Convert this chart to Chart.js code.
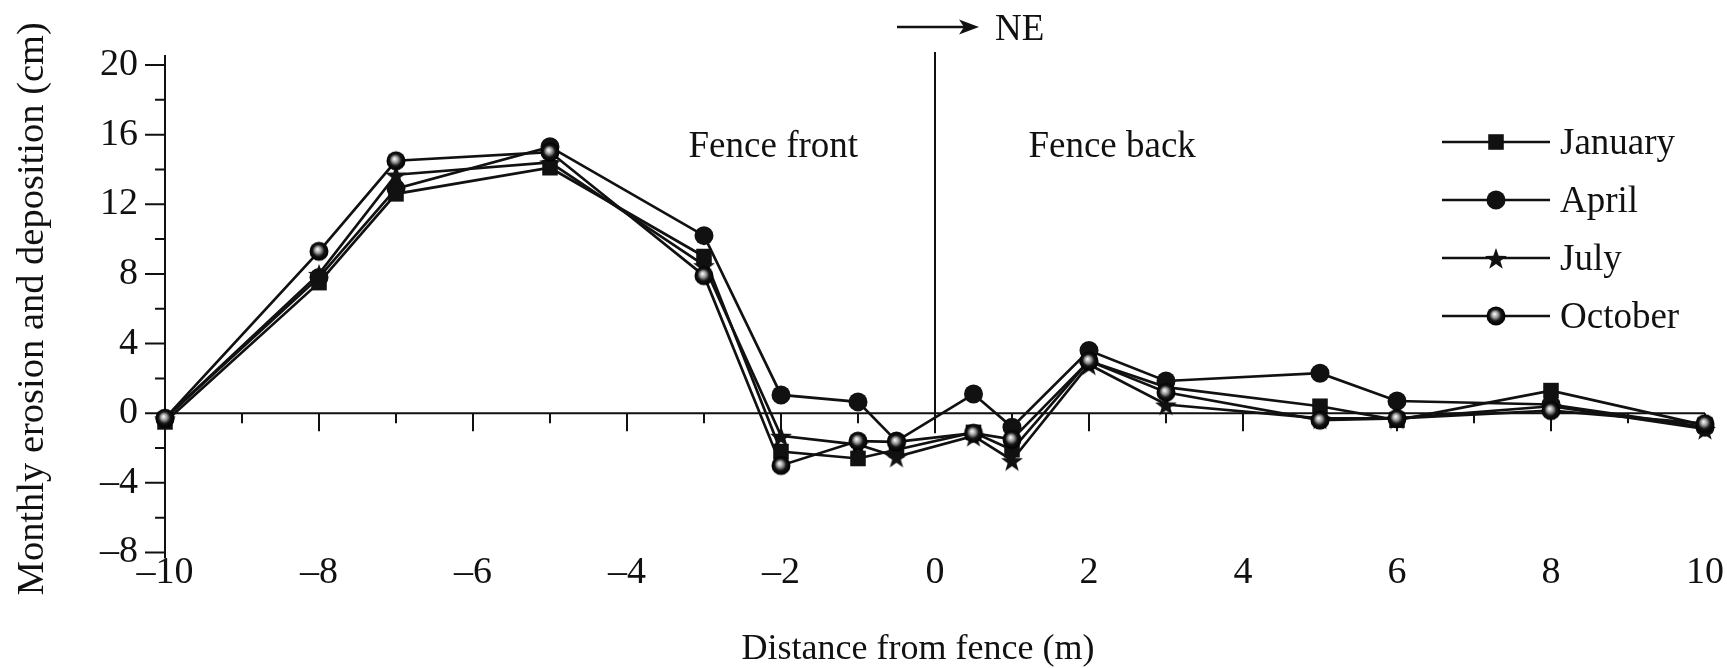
<!DOCTYPE html>
<html>
<head>
<meta charset="utf-8">
<script src="https://cdn.jsdelivr.net/npm/chart.js@4.4.1/dist/chart.umd.min.js"></script>
<style>
  html, body { margin: 0; padding: 0; background: #fff; }
  canvas { display: block; }
</style>
</head>
<body>
<canvas id="erosionChart" width="1727" height="668"></canvas>
<script>
// distance from the fence (m), negative = windward side
const distances = [-10, -8, -7, -5, -3, -2, -1, -0.5, 0.5, 1, 2, 3, 5, 6, 8, 10];

// monthly erosion (-) / deposition (+) in cm
const january = [-0.5, 7.5, 12.6, 14.1, 9.0, -2.2, -2.6, -2.1, -1.1, -2.1, 3.0, 1.5, 0.4, -0.4, 1.3, -0.7];
const april   = [-0.3, 7.8, 12.9, 15.3, 10.2, 1.05, 0.65, -1.6, 1.1, -0.8, 3.6, 1.85, 2.3, 0.7, 0.5, -0.8];
const july    = [-0.3, 8.0, 13.7, 14.4, 8.5, -1.3, -1.8, -2.5, -1.3, -2.7, 2.8, 0.5, -0.3, -0.3, 0.4, -0.9];
const october = [-0.3, 9.3, 14.5, 15.0, 7.9, -3.0, -1.6, -1.65, -1.15, -1.5, 3.0, 1.2, -0.4, -0.3, 0.15, -0.6];

const monthNames = ['January', 'April', 'July', 'October'];

const xTickValues = [-10, -8, -6, -4, -2, 0, 2, 4, 6, 8, 10];
const xTickLabels = ['\u201310', '\u20138', '\u20136', '\u20134', '\u20132', '0', '2', '4', '6', '8', '10'];
const yTickValues = [-8, -4, 0, 4, 8, 12, 16, 20];
const yTickLabels = ['\u20138', '\u20134', '0', '4', '8', '12', '16', '20'];

const FONT = '"Liberation Serif", "Times New Roman", serif';
const INK = '#111';

function makeMarker(size, draw) {
  const c = document.createElement('canvas');
  c.width = c.height = size;
  draw(c.getContext('2d'), size / 2);
  return c;
}

// filled five point star
const starMarker = makeMarker(26, (g, c) => {
  g.fillStyle = INK;
  g.beginPath();
  for (let i = 0; i < 10; i++) {
    const r = i % 2 ? 4.6 : 11.5;
    const a = -Math.PI / 2 + i * Math.PI / 5;
    g.lineTo(c + r * Math.cos(a), c + 1.5 + r * Math.sin(a));
  }
  g.closePath();
  g.fill();
});

// dark ball with a highlight
const sphereMarker = makeMarker(22, (g, c) => {
  const grad = g.createRadialGradient(c - 1.5, c - 2, 0.5, c, c, 9.5);
  grad.addColorStop(0, '#f4f4f4');
  grad.addColorStop(0.3, '#9a9a9a');
  grad.addColorStop(0.6, '#151515');
  grad.addColorStop(1, '#000');
  g.fillStyle = grad;
  g.beginPath();
  g.arc(c, c, 9.5, 0, Math.PI * 2);
  g.fill();
});

const series = [january, april, july, october];
const markerStyles = ['rect', 'circle', starMarker, sphereMarker];
const markerRadius = [11, 9.5, 11, 10];
const drawOrder = [3, 4, 2, 1];

const datasets = series.map((vals, i) => ({
  label: monthNames[i],
  data: distances.map((d, k) => ({ x: d, y: vals[k] })),
  borderColor: INK,
  backgroundColor: INK,
  borderWidth: 2.7,
  pointStyle: markerStyles[i],
  pointRadius: markerRadius[i],
  pointBackgroundColor: INK,
  pointBorderWidth: 0,
  tension: 0,
  clip: false,
  order: drawOrder[i]
}));

// axes at zero, fence line, notes and legend
const fenceDecor = {
  id: 'fenceDecor',
  beforeDatasetsDraw(chart) {
    const { ctx, scales: { x, y } } = chart;
    const left = x.getPixelForValue(-10);
    const right = x.getPixelForValue(10);
    const yZero = y.getPixelForValue(0);
    const xFence = x.getPixelForValue(0);
    ctx.save();
    ctx.strokeStyle = INK;
    ctx.lineWidth = 2;
    ctx.beginPath();
    ctx.moveTo(left, yZero);
    ctx.lineTo(right, yZero);
    for (let v = -9; v <= 10; v++) {
      const px = x.getPixelForValue(v);
      ctx.moveTo(px, yZero);
      ctx.lineTo(px, yZero + (v % 2 === 0 ? 18 : 10));
    }
    ctx.moveTo(left, y.getPixelForValue(20) - 10);
    ctx.lineTo(left, y.getPixelForValue(-8) + 6);
    for (let v = -8; v <= 20; v += 2) {
      const py = y.getPixelForValue(v);
      ctx.moveTo(left, py);
      ctx.lineTo(left - (v % 4 === 0 ? 20 : 10), py);
    }
    ctx.moveTo(xFence, y.getPixelForValue(20) - 13);
    ctx.lineTo(xFence, yZero + 20);
    ctx.stroke();
    ctx.restore();
  },
  afterDraw(chart) {
    const { ctx, scales: { x, y } } = chart;
    const xFence = x.getPixelForValue(0);
    ctx.save();
    ctx.fillStyle = INK;
    ctx.strokeStyle = INK;

    // wind direction arrow
    ctx.lineWidth = 2.5;
    ctx.beginPath();
    ctx.moveTo(xFence - 38, 27);
    ctx.lineTo(xFence + 30, 27);
    ctx.stroke();
    ctx.beginPath();
    ctx.moveTo(xFence + 44, 27);
    ctx.lineTo(xFence + 24, 19.5);
    ctx.lineTo(xFence + 29, 27);
    ctx.lineTo(xFence + 24, 34.5);
    ctx.closePath();
    ctx.fill();

    ctx.textBaseline = 'alphabetic';
    ctx.font = '37px ' + FONT;
    ctx.textAlign = 'left';
    ctx.fillText('NE', xFence + 60, 40);

    ctx.textAlign = 'center';
    ctx.fillText('Fence front', x.getPixelForValue(-2.1), 157);
    ctx.fillText('Fence back', x.getPixelForValue(2.3), 157);

    ctx.font = '36px ' + FONT;
    ctx.fillText('Distance from fence (m)', 918, 659);

    // legend: line, marker, line, then the month
    const lx = 1442, lw = 108;
    chart.data.datasets.forEach((ds, i) => {
      const ry = 142 + i * 58;
      ctx.lineWidth = 2.5;
      ctx.beginPath();
      ctx.moveTo(lx, ry);
      ctx.lineTo(lx + lw, ry);
      ctx.stroke();
      Chart.helpers.drawPoint(ctx, {
        pointStyle: ds.pointStyle, radius: ds.pointRadius, rotation: 0, borderWidth: 0
      }, lx + lw / 2, ry);
      ctx.font = '37px ' + FONT;
      ctx.textAlign = 'left';
      ctx.fillText(ds.label, lx + lw + 10, ry + 12);
    });
    ctx.restore();
  }
};

new Chart(document.getElementById('erosionChart'), {
  type: 'line',
  data: { datasets },
  options: {
    responsive: false,
    animation: false,
    layout: { padding: { top: 65, right: 22, left: 0, bottom: 0 } },
    plugins: { legend: { display: false }, tooltip: { enabled: false } },
    scales: {
      x: {
        type: 'linear',
        min: -10,
        max: 10,
        grid: { display: false, drawTicks: false },
        border: { display: false },
        afterBuildTicks: s => { s.ticks = xTickValues.map(v => ({ value: v })); },
        afterFit: s => { s.height = 115.5; },
        ticks: {
          autoSkip: false,
          maxRotation: 0,
          padding: 2,
          color: INK,
          font: { family: FONT, size: 38, lineHeight: 1 },
          callback: (v, i) => xTickLabels[i]
        }
      },
      y: {
        type: 'linear',
        min: -8,
        max: 20,
        grid: { display: false, drawTicks: false },
        border: { display: false },
        afterBuildTicks: s => { s.ticks = yTickValues.map(v => ({ value: v })); },
        afterFit: s => { s.width = 165; },
        ticks: {
          padding: 27,
          color: INK,
          font: { family: FONT, size: 38, lineHeight: 1 },
          callback: (v, i) => yTickLabels[i]
        },
        title: {
          display: true,
          text: 'Monthly erosion and deposition (cm)',
          color: INK,
          font: { family: FONT, size: 38.5 },
          padding: { top: 10, bottom: 0 }
        }
      }
    }
  },
  plugins: [fenceDecor]
});
</script>
</body>
</html>
